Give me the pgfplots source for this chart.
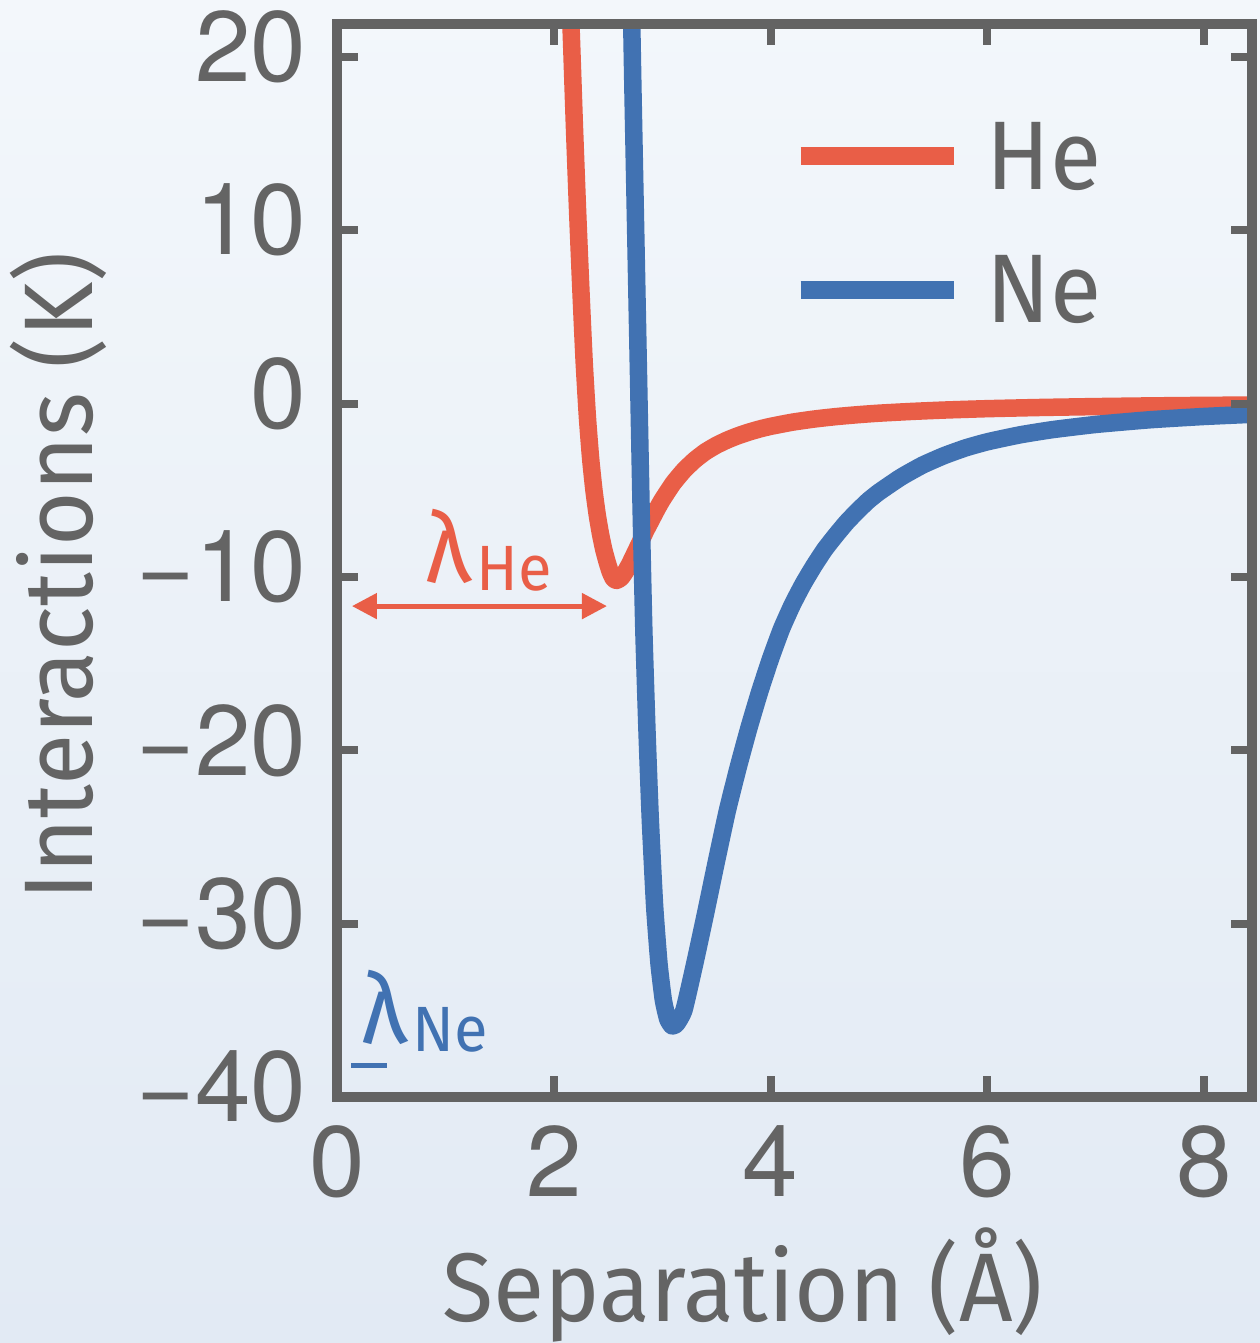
\documentclass[border=0pt]{standalone}
\usepackage{pgfplots}
\pgfplotsset{compat=1.18}
\usetikzlibrary{arrows.meta}
\usepackage{fontspec}
\setmainfont{Fira Sans}[FakeStretch=0.96]
\newfontfamily\heros{TeX Gyre Heros}
\definecolor{axgray}{RGB}{99,99,99}
\definecolor{txtgray}{RGB}{100,100,100}
\definecolor{hered}{RGB}{233,94,71}
\definecolor{neblue}{RGB}{65,114,178}
\definecolor{bgtop}{RGB}{243,247,251}
\definecolor{bgbot}{RGB}{226,234,244}
\begin{document}
\begin{tikzpicture}
\useasboundingbox (0,0) rectangle (252pt,268.6pt);
\shade[top color=bgtop, bottom color=bgbot] (0,0) rectangle (252pt,268.6pt);
\begin{axis}[
  at={(67.4pt,49.2pt)}, anchor=south west,
  width=183pt, height=214.6pt, scale only axis,
  xmin=0, xmax=8.44, ymin=-40, ymax=21.9,
  axis on top,
  axis line style={line width=2pt, color=axgray},
  tick align=inside,
  major tick length=4.2pt,
  tick style={line width=1.6pt, color=axgray},
  xtick={0,2,4,6,8},
  xticklabels={0,2,4,6,8},
  ytick={-40,-30,-20,-10,0,10,20},
  yticklabels={−40,−30,−20,−10,0,10,20},
  ticklabel style={font=\heros\fontsize{20}{20}\selectfont, text=txtgray},
  yticklabel style={xshift=-2.6pt, yshift=2pt},
  xticklabel style={yshift=-2.2pt},
  xlabel={Separation (Å)},
  ylabel={Interactions (K)},
  xlabel style={at={(axis description cs:0.4437,0)}, anchor=base, yshift=-45.0pt, font=\fontsize{19.5}{19.5}\selectfont, text=txtgray},
  ylabel style={at={(axis description cs:0,0.485)}, anchor=base, yshift=48.8pt, font=\fontsize{19.5}{19.5}\selectfont, text=txtgray},
  legend style={draw=none, fill=none, at={(0.497,0.9087)}, anchor=north west, inner sep=0pt, outer sep=0pt, row sep=11.8pt, column sep=4.8pt, font=\fontsize{19.5}{19.5}\selectfont, text=txtgray, nodes={inner sep=0pt}},
  legend cell align=left,
  legend image code/.code={\draw[#1, line width=3.6pt] (0pt,0.6pt) -- (30.6pt,0.6pt);},
]
\addplot[hered, line width=3.5pt, line join=round, smooth, tension=0.3] coordinates {
(2.14,24.5) (2.16,21.5) (2.19,16.0) (2.22,11.0) (2.25,6.5) (2.28,2.4) (2.31,-0.8)
(2.34,-3.2) (2.37,-5.0) (2.40,-6.4) (2.43,-7.5) (2.46,-8.4) (2.49,-9.1) (2.52,-9.7)
(2.55,-10.1) (2.58,-10.2) (2.62,-10.05) (2.66,-9.7) (2.70,-9.25) (2.75,-8.6) (2.80,-7.95)
(2.85,-7.3) (2.90,-6.7) (2.95,-6.1) (3.00,-5.55) (3.10,-4.6) (3.20,-3.85) (3.30,-3.25)
(3.40,-2.77) (3.50,-2.4) (3.60,-2.1) (3.70,-1.85) (3.80,-1.64) (3.90,-1.46) (4.00,-1.31)
(4.20,-1.07) (4.40,-0.89) (4.60,-0.75) (4.80,-0.64) (5.00,-0.55) (5.30,-0.45) (5.60,-0.37)
(6.00,-0.29) (6.50,-0.22) (7.00,-0.17) (7.50,-0.13) (8.00,-0.10) (8.50,-0.08)
};
\addlegendentry{He}
\addplot[neblue, line width=3.5pt, line join=round, smooth, tension=0.3] coordinates {
(2.71,25) (2.73,18) (2.755,10) (2.78,2) (2.805,-6) (2.83,-13) (2.86,-19) (2.89,-24)
(2.93,-29) (2.97,-32.3) (3.01,-34.4) (3.05,-35.5) (3.09,-35.9) (3.13,-35.8) (3.20,-35.0)
(3.30,-32.3) (3.40,-29.4) (3.50,-26.4) (3.60,-23.5) (3.70,-21.0) (3.80,-18.7) (3.90,-16.6)
(4.00,-14.7) (4.10,-13.0) (4.20,-11.6) (4.30,-10.4) (4.40,-9.35) (4.50,-8.4) (4.60,-7.6)
(4.70,-6.85) (4.80,-6.2) (4.90,-5.6) (5.00,-5.1) (5.20,-4.25) (5.40,-3.55) (5.60,-3.0)
(5.80,-2.55) (6.00,-2.2) (6.30,-1.8) (6.60,-1.5) (7.00,-1.2) (7.50,-0.93) (8.00,-0.74)
(8.50,-0.6)
};
\addlegendentry{Ne}
\draw[hered, line width=1pt, {Triangle[length=5pt,width=5pt]}-{Triangle[length=5pt,width=5pt]}] (axis cs:0.138,-11.68) -- (axis cs:2.49,-11.68);
\node[anchor=base west, inner sep=0pt, text=hered, font=\fontsize{19.5}{19.5}\selectfont] at (axis cs:0.81,-10.32) {λ\hspace{1pt}\raisebox{-1.6pt}{\fontsize{12.8}{12.8}\selectfont He}};
\node[anchor=base west, inner sep=0pt, text=neblue, font=\fontsize{19.5}{19.5}\selectfont] at (axis cs:0.22,-36.89) {λ\hspace{1pt}\raisebox{-1.6pt}{\fontsize{12.8}{12.8}\selectfont Ne}};
\draw[neblue, line width=1pt] (axis cs:0.13,-38.16) -- (axis cs:0.46,-38.16);
\end{axis}
\end{tikzpicture}
\end{document}
